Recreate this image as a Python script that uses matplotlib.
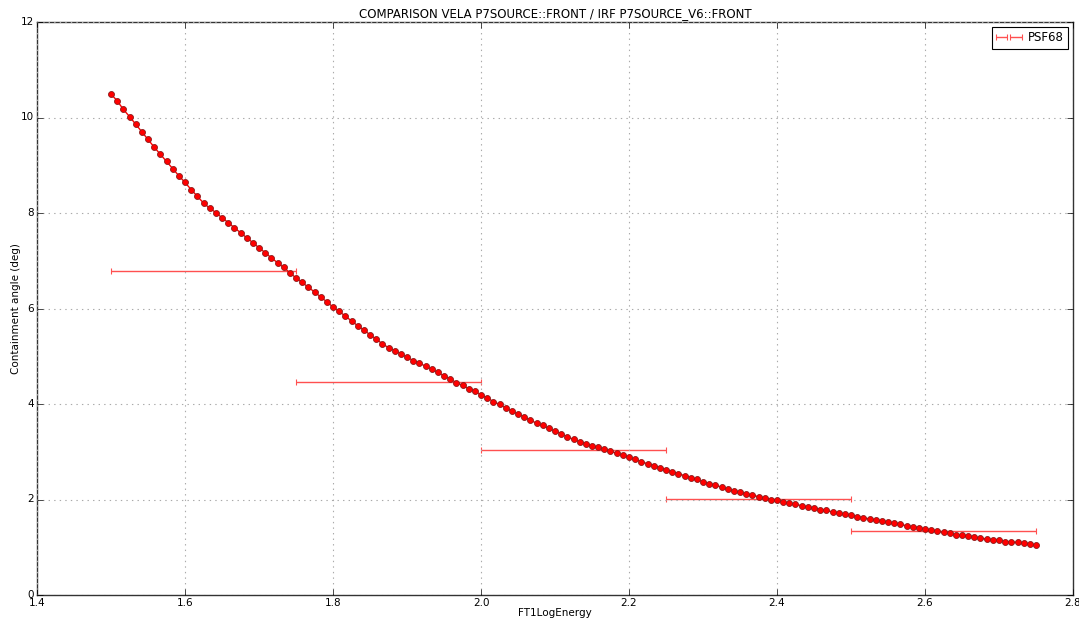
import numpy as np
import matplotlib
matplotlib.use("Agg")
import matplotlib.pyplot as plt
from matplotlib.legend_handler import HandlerErrorbar
from matplotlib.container import ErrorbarContainer

# Curve: FT1LogEnergy grid from 1.5 to 2.75 (151 points)
energy_start, energy_stop, n_points = 1.5, 2.75, 151
psf_curve = [
    10.49, 10.35, 10.17, 10.02, 9.86, 9.70, 9.54, 9.38, 9.23, 9.08,
    8.93, 8.78, 8.64, 8.49, 8.35, 8.21, 8.10, 8.01, 7.90, 7.80,
    7.69, 7.59, 7.48, 7.38, 7.27, 7.17, 7.06, 6.96, 6.86, 6.75,
    6.64, 6.55, 6.44, 6.35, 6.24, 6.14, 6.03, 5.94, 5.84, 5.74,
    5.64, 5.55, 5.45, 5.36, 5.26, 5.18, 5.12, 5.05, 4.98, 4.91,
    4.86, 4.79, 4.73, 4.66, 4.59, 4.52, 4.45, 4.39, 4.32, 4.27,
    4.19, 4.13, 4.05, 3.99, 3.92, 3.85, 3.79, 3.73, 3.66, 3.60,
    3.55, 3.49, 3.43, 3.38, 3.31, 3.26, 3.21, 3.17, 3.12, 3.09,
    3.05, 3.01, 2.97, 2.93, 2.88, 2.84, 2.79, 2.75, 2.71, 2.67,
    2.62, 2.58, 2.54, 2.50, 2.46, 2.42, 2.37, 2.33, 2.30, 2.26,
    2.21, 2.18, 2.15, 2.12, 2.09, 2.06, 2.03, 2.00, 1.98, 1.95,
    1.92, 1.90, 1.87, 1.84, 1.82, 1.79, 1.77, 1.74, 1.72, 1.69,
    1.67, 1.64, 1.62, 1.59, 1.57, 1.55, 1.52, 1.50, 1.48, 1.45,
    1.43, 1.41, 1.38, 1.36, 1.34, 1.31, 1.29, 1.26, 1.25, 1.24,
    1.21, 1.19, 1.17, 1.16, 1.15, 1.12, 1.11, 1.10, 1.08, 1.07,
    1.04,
]
energies = np.linspace(energy_start, energy_stop, n_points)

# Binned measurements (PSF68)
bin_centers = [1.625, 1.875, 2.125, 2.375, 2.625]
bin_halfwidth = [0.125, 0.125, 0.125, 0.125, 0.125]
psf68 = [6.78, 4.47, 3.03, 2.01, 1.34]

xticks = [1.4, 1.6, 1.8, 2.0, 2.2, 2.4, 2.6, 2.8]
yticks = [0, 2, 4, 6, 8, 10, 12]

plt.style.use("classic")
plt.rcParams["font.family"] = "DejaVu Sans"

fig = plt.figure(figsize=(10.79, 6.19), dpi=100, facecolor="white")
ax = fig.add_axes([37 / 1079, 24 / 619, 1036 / 1079, 573 / 619])

ax.plot(energies, psf_curve, color="red", lw=1.0, marker="o", ms=4.3,
        mfc="red", mec="#8b1a1a", mew=0.6, zorder=3)
ax.errorbar(bin_centers, psf68, xerr=bin_halfwidth, fmt="none",
            ecolor="#ff5050", elinewidth=1.0, capsize=2.5, capthick=0.8,
            label="PSF68", zorder=2)

ax.set_xlim(1.4, 2.8)
ax.set_ylim(0, 12)
ax.set_xticks(xticks)
ax.set_yticks(yticks)
ax.set_xticklabels([f"{t:.1f}" for t in xticks], fontsize=7.5)
ax.set_yticklabels([str(t) for t in yticks], fontsize=7.5)
ax.tick_params(direction="in", length=4, pad=2)
ax.grid(True, linestyle=":", color="#aaaaaa", linewidth=0.8)
for s in ax.spines.values():
    s.set_linewidth(1.0)
    s.set_color("#333333")

ax.set_title("COMPARISON VELA P7SOURCE::FRONT / IRF P7SOURCE_V6::FRONT",
             fontsize=8.5, pad=3.5)
ax.set_xlabel("FT1LogEnergy", fontsize=7.5, labelpad=0)
ax.set_ylabel("Containment angle (deg)", fontsize=7.5, labelpad=0)

leg = ax.legend(loc="upper right", fontsize=8.5,
                handler_map={ErrorbarContainer: HandlerErrorbar(
                    xerr_size=0.49, numpoints=2, marker_pad=0.49)},
                handlelength=2.2, borderpad=0.35, handletextpad=0.5,
                fancybox=False, borderaxespad=0.45)
leg.get_frame().set_linewidth(0.8)

fig.savefig("out.png", dpi=100, facecolor="white")
